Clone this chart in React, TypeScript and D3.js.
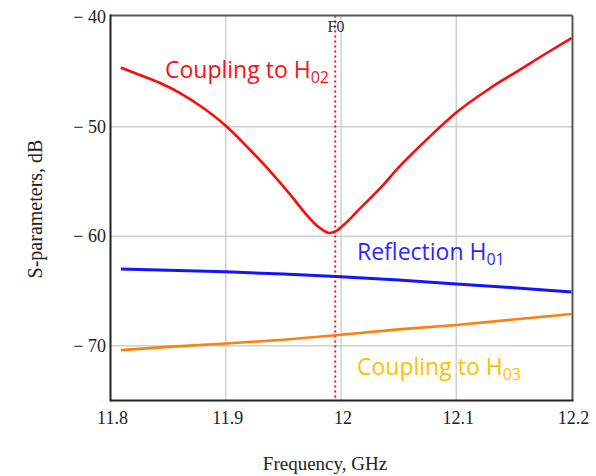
import React from "react";
import * as d3 from "d3";

const freqRed = [11.809, 11.826, 11.843, 11.86, 11.878, 11.9, 11.921, 11.938, 11.956, 11.969, 11.98, 11.99, 11.996, 12.004, 12.017, 12.034, 12.051, 12.077, 12.1, 12.129, 12.155, 12.181, 12.2];
const couplingH02 = [-44.6, -45.3, -46.0, -46.9, -48.1, -49.9, -52.1, -54.0, -56.2, -57.9, -59.1, -59.7, -59.5, -58.8, -57.4, -55.6, -53.6, -50.9, -48.7, -46.5, -44.8, -43.1, -41.9];

const freqFlat = [11.809, 11.85, 11.9, 11.95, 12.0, 12.05, 12.1, 12.15, 12.2];
const reflectionH01 = [-63.0, -63.1, -63.25, -63.45, -63.7, -64.0, -64.35, -64.7, -65.1];
const couplingH03 = [-70.4, -70.1, -69.8, -69.45, -69.0, -68.5, -68.1, -67.6, -67.1];

const xTicks = [11.8, 11.9, 12, 12.1, 12.2];
const yTicks = [-40, -50, -60, -70];
const F0 = 11.995;

const W = 596, H = 476;
const left = 110.5, right = 572.5, top = 15.5, bottom = 400.5;

export default function App() {
  const x = d3.scaleLinear().domain([11.8, 12.2]).range([left, right - 1]);
  const y = d3.scaleLinear().domain([-75, -40]).range([bottom, 17.3]);
  const line = d3.line<[number, number]>().x(d => x(d[0])).y(d => y(d[1]));
  const smooth = d3.line<[number, number]>().x(d => x(d[0])).y(d => y(d[1])).curve(d3.curveMonotoneX);
  const red = freqRed.map((f, i) => [f, couplingH02[i]] as [number, number]);
  const blue = freqFlat.map((f, i) => [f, reflectionH01[i]] as [number, number]);
  const orange = freqFlat.map((f, i) => [f, couplingH03[i]] as [number, number]);
  const serif = "'Liberation Serif', 'Times New Roman', serif";
  const sans = "'Open Sans', 'Liberation Sans', sans-serif";
  return (
    <svg width={W} height={H} style={{ position: "absolute", left: 0, top: 0, background: "#fff" }}>
      <g>
        {xTicks.slice(1, -1).map(t => (
          <line key={"gx" + t} x1={x(t)} x2={x(t)} y1={top} y2={bottom} stroke="#cfcfcf" strokeWidth={1.5} />
        ))}
        {yTicks.slice(1).map(t => (
          <line key={"gy" + t} x1={left} x2={right} y1={y(t)} y2={y(t)} stroke="#cfcfcf" strokeWidth={1.5} />
        ))}
      </g>
      <line x1={x(F0)} x2={x(F0)} y1={top} y2={bottom} stroke="#e8101a" strokeWidth={2} strokeDasharray="2,3" />
      <path d={smooth(red) || ""} fill="none" stroke="#ff0a0a" strokeWidth={2.6} />
      <path d={line(blue) || ""} fill="none" stroke="#1414ff" strokeWidth={3} />
      <path d={line(orange) || ""} fill="none" stroke="#ff7f0e" strokeWidth={2.6} />
      <line x1={left} x2={right} y1={top} y2={top} stroke="#555" strokeWidth={2} />
      <line x1={right} x2={right} y1={top} y2={bottom} stroke="#555" strokeWidth={2} />
      <line x1={left} x2={left} y1={top - 1} y2={bottom + 1} stroke="#222" strokeWidth={2} />
      <line x1={left} x2={right + 1} y1={bottom} y2={bottom} stroke="#222" strokeWidth={2} />
      {xTicks.map(t => (
        <text key={"xt" + t} x={x(t) + 2} y={424} textAnchor="middle" fontFamily={serif} fontSize={18} fill="#222">
          {String(t)}
        </text>
      ))}
      {yTicks.map(t => (
        <text key={"yt" + t} x={106} y={y(t) + 6} textAnchor="end" fontFamily={serif} fontSize={18} fill="#222">
          {"\u2212 " + Math.abs(t)}
        </text>
      ))}
      <text x={336} y={32} textAnchor="middle" fontFamily={serif} fontSize={16} fill="#333">F0</text>
      <text x={325} y={470} textAnchor="middle" fontFamily={serif} fontSize={19} fill="#222">Frequency, GHz</text>
      <text transform="translate(42,209) rotate(-90)" textAnchor="middle" fontFamily={serif} fontSize={20} fill="#222">S-parameters, dB</text>
      <text x={165} y={78} fontFamily={sans} fontSize={23} fill="#ff1010">
        Coupling to H<tspan fontSize={16} dy={5}>02</tspan>
      </text>
      <text x={357} y={260} fontFamily={sans} fontSize={23} fill="#2a2aff">
        Reflection H<tspan fontSize={16} dy={5}>01</tspan>
      </text>
      <text x={357} y={375} fontFamily={sans} fontSize={23} fill="#ffbf00">
        Coupling to H<tspan fontSize={16} dy={5}>03</tspan>
      </text>
    </svg>
  );
}
